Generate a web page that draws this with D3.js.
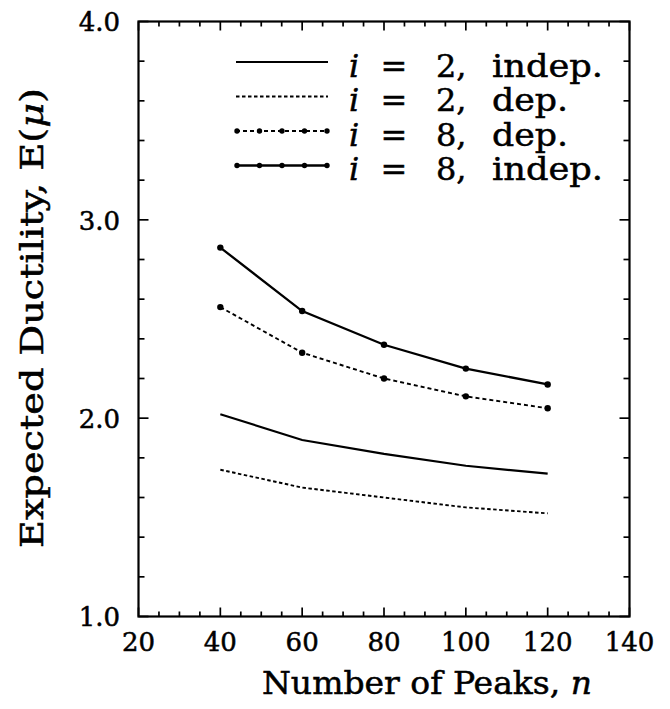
<!DOCTYPE html>
<html>
<head>
<meta charset="utf-8">
<script src="https://cdn.jsdelivr.net/npm/d3@7/dist/d3.min.js"></script>
<style>
  html, body { margin: 0; padding: 0; background: #fff; }
  svg { display: block; }
  text { font-family: "DejaVu Serif", "Liberation Serif", serif; fill: #000; stroke: #000; stroke-width: 0.5px; }
</style>
</head>
<body>
<script>
// ---------- data ----------
const peaks = [40, 60, 80, 100, 120];
const i2Indep = [2.02, 1.89, 1.82, 1.76, 1.72];
const i2Dep   = [1.74, 1.65, 1.60, 1.55, 1.52];
const i8Dep   = [2.56, 2.33, 2.20, 2.11, 2.05];
const i8Indep = [2.86, 2.54, 2.37, 2.25, 2.17];
const xTicks = [20, 40, 60, 80, 100, 120, 140];
const yTicks = [1.0, 2.0, 3.0, 4.0];
const legendLabels = [
  { i: "2", kind: "indep." },
  { i: "2", kind: "dep." },
  { i: "8", kind: "dep." },
  { i: "8", kind: "indep." }
];

// ---------- layout ----------
const W = 670, H = 709;
const L = 138.5, R = 629.5, T = 21.5, B = 616.5;

const svg = d3.select("body").append("svg").attr("width", W).attr("height", H);

const x = d3.scaleLinear().domain([20, 140]).range([L, R]);
const y = d3.scaleLinear().domain([1, 4]).range([B, T]);

// ---------- ticks (inward on all sides) ----------
const xMinor = d3.range(20, 140.001, 5);
const yMinor = d3.range(1, 4.0001, 0.2).map(v => +v.toFixed(2));
const isMajorX = v => v % 20 === 0;
const isMajorY = v => Math.abs(v - Math.round(v)) < 1e-6;

const tg = svg.append("g").attr("stroke", "#000").attr("stroke-width", 1.7);
xMinor.forEach(v => {
  const len = isMajorX(v) ? 9 : 5;
  tg.append("line").attr("x1", x(v)).attr("x2", x(v)).attr("y1", B).attr("y2", B - len);
  tg.append("line").attr("x1", x(v)).attr("x2", x(v)).attr("y1", T).attr("y2", T + len);
});
yMinor.forEach(v => {
  const len = isMajorY(v) ? 10 : 6;
  tg.append("line").attr("x1", L).attr("x2", L + len).attr("y1", y(v)).attr("y2", y(v));
  tg.append("line").attr("x1", R).attr("x2", R - len).attr("y1", y(v)).attr("y2", y(v));
});

// frame
svg.append("rect").attr("x", L).attr("y", T).attr("width", R - L).attr("height", B - T)
  .attr("fill", "none").attr("stroke", "#000").attr("stroke-width", 2.2);

// tick labels
svg.append("g").selectAll("text").data(xTicks).join("text")
  .attr("x", d => x(d)).attr("y", 651).attr("text-anchor", "middle")
  .attr("font-size", 26).text(d => d);
svg.append("g").selectAll("text").data(yTicks).join("text")
  .attr("x", 120).attr("y", d => y(d)).attr("dy", "0.38em").attr("text-anchor", "end")
  .attr("font-size", 26).text(d => d.toFixed(1));

// axis titles
const xt = svg.append("text").attr("x", 262).attr("y", 694).attr("font-size", 31)
  .attr("textLength", 330).attr("lengthAdjust", "spacingAndGlyphs");
xt.append("tspan").text("Number  of  Peaks,  ");
xt.append("tspan").attr("font-style", "italic").text("n");

const yt = svg.append("text").attr("transform", "translate(43,548) rotate(-90)")
  .attr("font-size", 31).attr("textLength", 460).attr("lengthAdjust", "spacingAndGlyphs");
yt.append("tspan").text("Expected  Ductility,  E(");
yt.append("tspan").attr("font-style", "italic").text("μ");
yt.append("tspan").text(")");

// ---------- series ----------
const series = [
  { vals: i2Indep, dash: null, width: 2.2, markers: false },
  { vals: i2Dep,   dash: "3.5,2.5", width: 1.9, markers: false },
  { vals: i8Dep,   dash: "4,3", width: 1.9, markers: true },
  { vals: i8Indep, dash: null, width: 2.3, markers: true }
];
const line = d3.line().x(d => x(d[0])).y(d => y(d[1]));

series.forEach(s => {
  const pts = peaks.map((p, k) => [p, s.vals[k]]);
  svg.append("path").datum(pts).attr("d", line).attr("fill", "none")
    .attr("stroke", "#000").attr("stroke-width", s.width)
    .attr("stroke-dasharray", s.dash);
  if (s.markers) {
    svg.append("g").selectAll("circle").data(pts).join("circle")
      .attr("cx", d => x(d[0])).attr("cy", d => y(d[1])).attr("r", 3.2).attr("fill", "#000");
  }
});

// ---------- legend ----------
const legY = [62, 96.5, 131, 165.5];
const lx0 = 236, lx1 = 328;
series.forEach((s, k) => {
  const g = svg.append("g");
  g.append("line").attr("x1", lx0).attr("x2", lx1).attr("y1", legY[k]).attr("y2", legY[k])
    .attr("stroke", "#000").attr("stroke-width", s.width).attr("stroke-dasharray", s.dash);
  if (s.markers) {
    d3.range(5).forEach(j => {
      g.append("circle").attr("cx", lx0 + 1 + j * (lx1 - lx0 - 2) / 4).attr("cy", legY[k])
        .attr("r", 2.7).attr("fill", "#000");
    });
  }
  const by = legY[k] + 14.5;
  g.append("text").attr("x", 349).attr("y", by).attr("font-size", 32)
    .attr("font-style", "italic").text("i");
  g.append("text").attr("x", 394).attr("y", by).attr("font-size", 32)
    .attr("text-anchor", "middle").text("=");
  g.append("text").attr("x", 436).attr("y", by).attr("font-size", 32)
    .text(legendLabels[k].i + ",");
  const kt = g.append("text").attr("x", 492).attr("y", by).attr("font-size", 32)
    .text(legendLabels[k].kind);
  kt.attr("textLength", legendLabels[k].kind === "indep." ? 111 : 76)
    .attr("lengthAdjust", "spacingAndGlyphs");
});
</script>
</body>
</html>
